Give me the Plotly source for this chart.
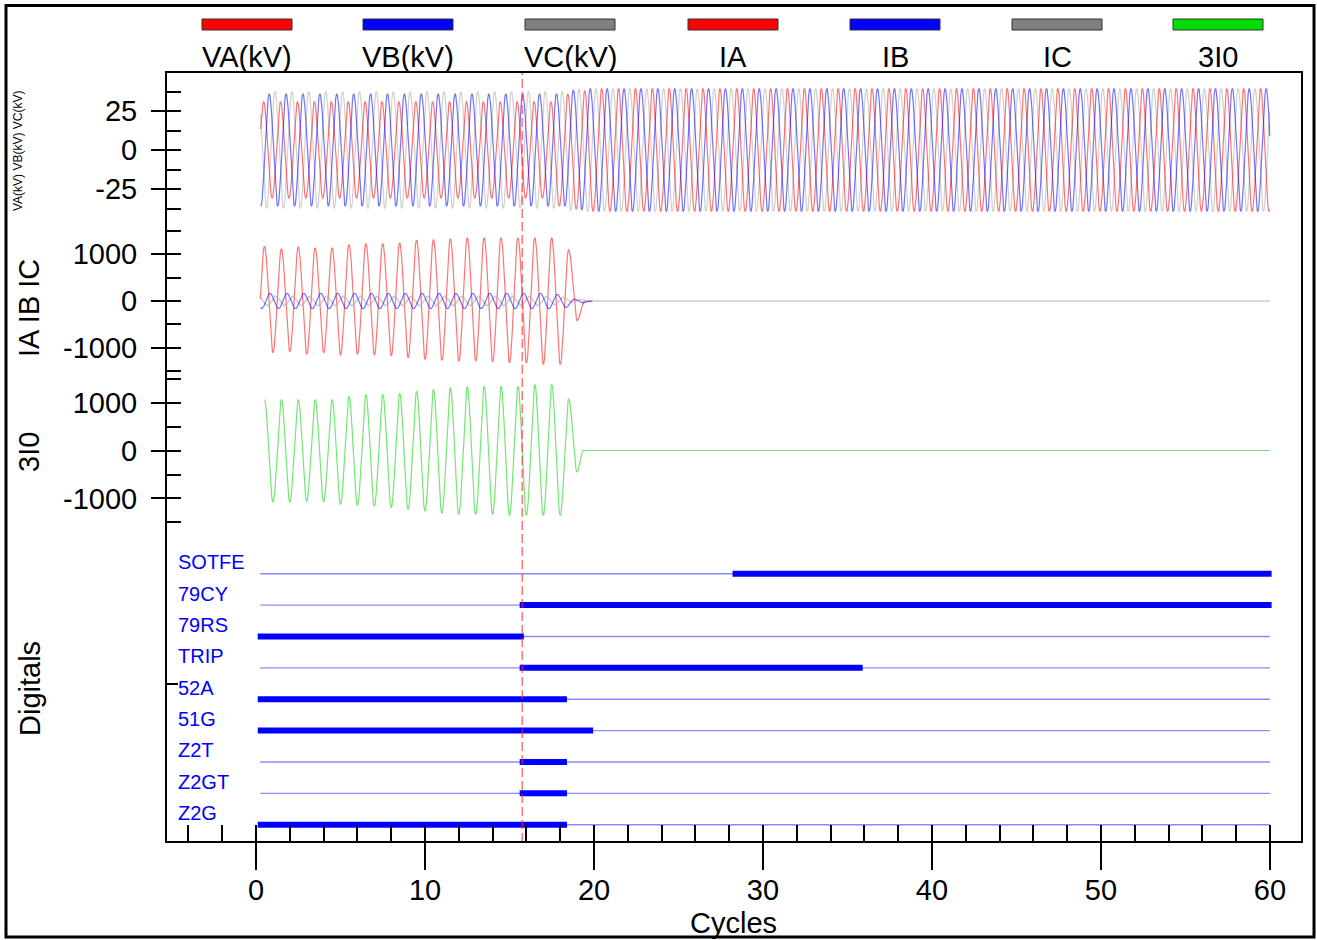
import numpy as np
import plotly.graph_objects as go

# ---------------- data read from the record ----------------
channel_names = ["VA(kV)", "VB(kV)", "VC(kV)", "IA", "IB", "IC", "3I0"]
channel_colors = ["#ff0000", "#0000ff", "#808080", "#ff0000", "#0000ff", "#808080", "#00dd00"]

x_tick_values = [0, 10, 20, 30, 40, 50, 60]
x_minor_values = [-4, -2, 0, 2, 4, 6, 8, 10, 12, 14, 16, 18, 20, 22, 24, 26, 28, 30,
                  32, 34, 36, 38, 40, 42, 44, 46, 48, 50, 52, 54, 56, 58, 60]
v_tick_values = [-25, 0, 25]
v_tick_text = ["-25", "0", "25"]
v_minor_values = [-37.5, -25, -12.5, 0, 12.5, 25, 37.5]
i_tick_values = [-1000, 0, 1000]
i_tick_text = ["-1000", "0", "1000"]
i_minor_values = [-1500, -1000, -500, 0, 500, 1000, 1500]

record_start = 0.25
record_end = 60.0
cursor_cycle = 15.75

# voltage peak (kV) for each cycle 0..60
va_amp = [31, 31, 31, 31, 31, 31, 31, 31, 31, 31,
          31, 31, 31, 31, 31, 31, 31, 31, 36, 38,
          39.5, 39.5, 39.5, 39.5, 39.5, 39.5, 39.5, 39.5, 39.5, 39.5,
          39.5, 39.5, 39.5, 39.5, 39.5, 39.5, 39.5, 39.5, 39.5, 39.5,
          39.5, 39.5, 39.5, 39.5, 39.5, 39.5, 39.5, 39.5, 39.5, 39.5,
          39.5, 39.5, 39.5, 39.5, 39.5, 39.5, 39.5, 39.5, 39.5, 39.5, 39.5]
vb_amp = [36, 36, 36, 36, 36, 36, 36, 36, 36, 36,
          36, 36, 36, 36, 36, 36, 36, 36, 36, 38.5,
          39.5, 39.5, 39.5, 39.5, 39.5, 39.5, 39.5, 39.5, 39.5, 39.5,
          39.5, 39.5, 39.5, 39.5, 39.5, 39.5, 39.5, 39.5, 39.5, 39.5,
          39.5, 39.5, 39.5, 39.5, 39.5, 39.5, 39.5, 39.5, 39.5, 39.5,
          39.5, 39.5, 39.5, 39.5, 39.5, 39.5, 39.5, 39.5, 39.5, 39.5, 39.5]
vc_amp = [37.5, 37.5, 37.5, 37.5, 37.5, 37.5, 37.5, 37.5, 37.5, 37.5,
          37.5, 37.5, 37.5, 37.5, 37.5, 37.5, 37.5, 37.5, 37.5, 39,
          39.5, 39.5, 39.5, 39.5, 39.5, 39.5, 39.5, 39.5, 39.5, 39.5,
          39.5, 39.5, 39.5, 39.5, 39.5, 39.5, 39.5, 39.5, 39.5, 39.5,
          39.5, 39.5, 39.5, 39.5, 39.5, 39.5, 39.5, 39.5, 39.5, 39.5,
          39.5, 39.5, 39.5, 39.5, 39.5, 39.5, 39.5, 39.5, 39.5, 39.5, 39.5]
# time (cycles) of first extremum and its sign
va_first = (-0.05, -1)
vb_first = (-0.22, 1)
vc_first = (-0.38, -1)

# IA extrema (A): troughs at cycles 0..19, peaks at cycles 0.5..18.5
ia_troughs = [-1100, -1109, -1087, -1143, -1109, -1159, -1143, -1159, -1180, -1217,
              -1252, -1274, -1289, -1289, -1304, -1326, -1326, -1361, -1361, -420]
ia_peaks = [1174, 1117, 1161, 1139, 1139, 1211, 1233, 1233, 1248, 1307,
            1320, 1335, 1357, 1357, 1357, 1357, 1357, 1357, 1102]
ia_zero_at = 19.45
ia_end = 19.9

# IB / IC peak per cycle (A)
ib_amp = [163, 163, 163, 163, 163, 163, 163, 163, 163, 163,
          163, 163, 163, 163, 163, 163, 163, 163, 140, 40]
ib_first = (-0.17, 1)
ib_end = 19.9
ic_amp = [100, 100, 100, 100, 100, 100, 100, 100, 100, 100,
          100, 100, 100, 100, 100, 100, 100, 100, 80, 30]
ic_first = (-0.33, -1)

# 3I0 extrema (A): peaks at 0.5..18.5, troughs at 1..19
i3_peaks = [1062, 1062, 1062, 1062, 1062, 1131, 1167, 1167, 1187, 1235,
            1271, 1306, 1327, 1340, 1340, 1340, 1375, 1375, 1077]
i3_troughs = [-1077, -1077, -1056, -1077, -1125, -1146, -1160, -1194, -1229, -1265,
              -1312, -1333, -1333, -1333, -1354, -1354, -1354, -1354, -452]
i3_start = 0.5
i3_zero_at = 19.35

# digital channels (cycles where asserted)
digital_names = ["SOTFE", "79CY", "79RS", "TRIP", "52A", "51G", "Z2T", "Z2GT", "Z2G"]
digital_on = [28.2, 15.6, 0.1, 15.6, 0.1, 0.1, 15.6, 15.6, 0.1]
digital_off = [60.1, 60.1, 15.85, 35.9, 18.4, 19.95, 18.4, 18.4, 18.4]
digital_rows = [8, 7, 6, 5, 4, 3, 2, 1, 0]


# ---------------- helpers ----------------
def cosine_path(times, values, t_lo, t_hi, n=14):
    times = np.asarray(times, float)
    values = np.asarray(values, float)
    u = np.linspace(0, 1, n, endpoint=False)
    ts = (times[:-1, None] + (times[1:, None] - times[:-1, None]) * u).ravel()
    w = (1 - np.cos(np.pi * u)) / 2
    vs = (values[:-1, None] + (values[1:, None] - values[:-1, None]) * w).ravel()
    ts = np.append(ts, times[-1])
    vs = np.append(vs, values[-1])
    keep = (ts >= t_lo - 1e-9) & (ts <= t_hi + 1e-9)
    return ts[keep], vs[keep]


def alternating(first, amps):
    t0, s = first
    times, vals = [], []
    for j in range(2 * len(amps)):
        times.append(t0 + 0.5 * j)
        vals.append(s * (-1) ** j * amps[j // 2])
    return times, vals


def interleave(a_times, a_vals, b_times, b_vals):
    pts = sorted(list(zip(a_times, a_vals)) + list(zip(b_times, b_vals)))
    return [p[0] for p in pts], [p[1] for p in pts]


FONT = "Liberation Sans, Arial, sans-serif"
W, H = 1317, 940
ML, MR, MT, MB = 166, 15, 72, 98
PW, PH = W - ML - MR, H - MT - MB


def px(xp):
    return (xp - ML) / PW


def py(yp):
    return (H - MB - yp) / PH


fig = go.Figure()

# ---------------- voltages ----------------
for amps, first, col, name in [(vc_amp, vc_first, "rgba(150,150,150,0.45)", "VC(kV)"),
                               (va_amp, va_first, "rgba(255,0,0,0.55)", "VA(kV)"),
                               (vb_amp, vb_first, "rgba(0,0,255,0.55)", "VB(kV)")]:
    t, v = alternating(first, amps)
    xs, ys = cosine_path(t, v, record_start, record_end)
    fig.add_trace(go.Scatter(x=xs, y=ys, mode="lines", name=name,
                             line=dict(color=col, width=1.2), xaxis="x", yaxis="y",
                             showlegend=False, hoverinfo="skip"))

# ---------------- phase currents ----------------
tr_t = [float(k) for k in range(len(ia_troughs))]
pk_t = [k + 0.5 for k in range(len(ia_peaks))]
t, v = interleave(tr_t, ia_troughs, pk_t, ia_peaks)
t += [ia_zero_at, ia_end]
v += [0, 0]
xs, ys = cosine_path(t, v, record_start, ia_end)
fig.add_trace(go.Scatter(x=xs, y=ys, mode="lines", name="IA",
                         line=dict(color="rgba(255,0,0,0.55)", width=1.2),
                         xaxis="x", yaxis="y2", showlegend=False, hoverinfo="skip"))

t, v = alternating(ic_first, ic_amp)
t += [t[-1] + 0.45, record_end]
v += [0, 0]
xs, ys = cosine_path(t, v, record_start, record_end)
fig.add_trace(go.Scatter(x=xs, y=ys, mode="lines", name="IC",
                         line=dict(color="rgba(170,170,170,0.6)", width=1.5),
                         xaxis="x", yaxis="y2", showlegend=False, hoverinfo="skip"))

t, v = alternating(ib_first, ib_amp)
t += [t[-1] + 0.5, ib_end]
v += [0, 0]
xs, ys = cosine_path(t, v, record_start, ib_end)
fig.add_trace(go.Scatter(x=xs, y=ys, mode="lines", name="IB",
                         line=dict(color="rgba(0,0,255,0.55)", width=1.2),
                         xaxis="x", yaxis="y2", showlegend=False, hoverinfo="skip"))

# ---------------- 3I0 ----------------
pk_t = [i3_start + k for k in range(len(i3_peaks))]
tr_t = [i3_start + 0.5 + k for k in range(len(i3_troughs))]
t, v = interleave(pk_t, i3_peaks, tr_t, i3_troughs)
t += [i3_zero_at, record_end]
v += [0, 0]
xs, ys = cosine_path(t, v, i3_start, record_end)
fig.add_trace(go.Scatter(x=xs, y=ys, mode="lines", name="3I0",
                         line=dict(color="rgba(0,210,0,0.55)", width=1.2),
                         xaxis="x", yaxis="y3", showlegend=False, hoverinfo="skip"))

# ---------------- digitals ----------------
for name, on, off, row in zip(digital_names, digital_on, digital_off, digital_rows):
    fig.add_trace(go.Scatter(x=[record_start, record_end], y=[row, row], mode="lines",
                             line=dict(color="rgba(60,60,255,0.6)", width=1.3),
                             xaxis="x", yaxis="y4", showlegend=False, hoverinfo="skip"))
    fig.add_trace(go.Scatter(x=[on, off], y=[row, row], mode="lines", name=name,
                             line=dict(color="#0000ff", width=6),
                             xaxis="x", yaxis="y4", showlegend=False, hoverinfo="skip"))
    fig.add_annotation(x=px(176), xref="paper", y=row + 0.37, yref="y4", text=name,
                       showarrow=False, xanchor="left", yanchor="middle",
                       font=dict(family=FONT, size=20, color="#0000ff"))

# dummy traces for the overlay tick axes
for xa, ya in [("x2", "y4"), ("x", "y5"), ("x", "y6"), ("x", "y7")]:
    fig.add_trace(go.Scatter(x=[None], y=[None], xaxis=xa, yaxis=ya, showlegend=False,
                             hoverinfo="skip"))

XR = [-5.33, 61.9]
tick_font = dict(family=FONT, size=29, color="black")
dom_v = [py(228), 1.0]
dom_i = [py(374), py(228)]
dom_3 = [py(527), py(374)]
dom_d = [0.0, py(527)]
v_range = [-50, 50]
i_range = [-1563, 1563]
i3_range = [-1594, 1594]
d_range = [-0.55, 9.49]

common_y = dict(showgrid=False, zeroline=False, showline=False, anchor="x",
                tickcolor="black", tickwidth=1.5, fixedrange=True)

fig.update_layout(
    width=W, height=H, autosize=False,
    margin=dict(l=ML, r=MR, t=MT, b=MB),
    paper_bgcolor="white", plot_bgcolor="white",
    showlegend=False,
    xaxis=dict(domain=[0, 1], anchor="y4", range=XR, tickmode="array",
               tickvals=x_tick_values, ticks="outside", ticklen=27, tickwidth=1.5,
               tickcolor="black", showgrid=False, zeroline=False, showline=False,
               tickfont=tick_font, ticklabelstandoff=-5, fixedrange=True),
    xaxis2=dict(overlaying="x", anchor="y4", range=XR, tickmode="array",
                tickvals=x_minor_values, ticks="inside", ticklen=17, tickwidth=1.5,
                tickcolor="black", showticklabels=False, showgrid=False,
                zeroline=False, showline=False, fixedrange=True),
    yaxis=dict(domain=dom_v, range=v_range, tickmode="array", tickvals=v_tick_values,
               ticktext=v_tick_text,
               ticks="outside", ticklen=14, tickfont=tick_font, ticklabelstandoff=8,
               **common_y),
    yaxis5=dict(overlaying="y", range=v_range, tickmode="array", tickvals=v_minor_values,
                ticks="inside", ticklen=15, showticklabels=False, **common_y),
    yaxis2=dict(domain=dom_i, range=i_range, tickmode="array", tickvals=i_tick_values,
                ticktext=i_tick_text,
                ticks="outside", ticklen=14, tickfont=tick_font, ticklabelstandoff=8,
                **common_y),
    yaxis6=dict(overlaying="y2", range=i_range, tickmode="array", tickvals=i_minor_values,
                ticks="inside", ticklen=15, showticklabels=False, **common_y),
    yaxis3=dict(domain=dom_3, range=i3_range, tickmode="array", tickvals=i_tick_values,
                ticktext=i_tick_text,
                ticks="outside", ticklen=14, tickfont=tick_font, ticklabelstandoff=8,
                **common_y),
    yaxis7=dict(overlaying="y3", range=i3_range, tickmode="array", tickvals=i_minor_values,
                ticks="inside", ticklen=15, showticklabels=False, **common_y),
    yaxis4=dict(domain=dom_d, range=d_range, tickmode="array", tickvals=[4.5],
                ticks="inside", ticklen=12, showticklabels=False, **common_y),
)

# cursor
fig.add_shape(type="line", xref="x", yref="paper", x0=cursor_cycle, x1=cursor_cycle,
              y0=0, y1=1, line=dict(color="rgba(255,40,40,0.8)", width=1.2, dash="9px,4px"),
              layer="above")
# plot box
fig.add_shape(type="rect", xref="paper", yref="paper", x0=0, x1=1, y0=0, y1=1,
              line=dict(color="black", width=2), layer="above")
# outer frame
fig.add_shape(type="rect", xref="paper", yref="paper", x0=px(6), x1=px(1314),
              y0=py(937), y1=py(5.5), line=dict(color="black", width=3), layer="above")

# legend swatches + labels
legend_centers = [247, 408, 570, 733, 895, 1057, 1218]
for name, col, c in zip(channel_names, channel_colors, legend_centers):
    fig.add_shape(type="rect", xref="paper", yref="paper", x0=px(c - 45), x1=px(c + 45),
                  y0=py(30), y1=py(19), fillcolor=col, line=dict(color="#333333", width=1))
    fig.add_annotation(x=px(c), y=py(57), xref="paper", yref="paper", text=name,
                       showarrow=False, xanchor="center", yanchor="middle",
                       font=dict(family=FONT, size=29, color="black"))

# axis titles
for text, xx, yy, size in [("VA(kV) VB(kV) VC(kV)", 18, 151, 12),
                           ("IA IB IC", 29, 308, 29),
                           ("3I0", 29, 452, 29),
                           ("Digitals", 30, 689, 29)]:
    fig.add_annotation(x=px(xx), y=py(yy), xref="paper", yref="paper", text=text,
                       textangle=-90, showarrow=False, xanchor="center", yanchor="middle",
                       font=dict(family=FONT, size=size, color="black"))

fig.add_annotation(x=px(733), y=py(923), xref="paper", yref="paper", text="Cycles",
                   showarrow=False, xanchor="center", yanchor="middle",
                   font=dict(family=FONT, size=29, color="black"))

fig.write_html("out.html", config={"displayModeBar": False},
               post_script="document.body.style.margin='0';document.body.style.overflow='hidden';")
